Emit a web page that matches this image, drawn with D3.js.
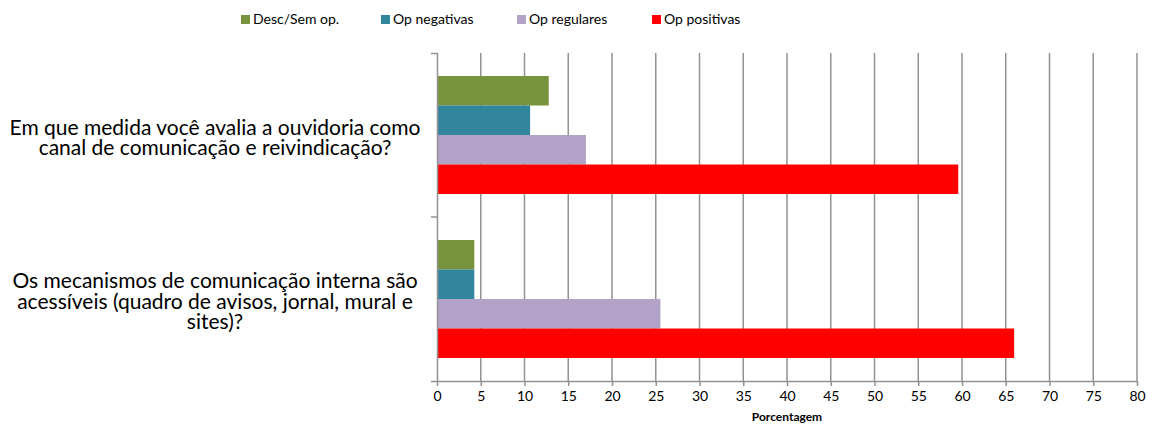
<!DOCTYPE html>
<html>
<head>
<meta charset="utf-8">
<script src="https://cdn.jsdelivr.net/npm/d3@7"></script>
<style>
  body { margin: 0; background: #fff; }
  text { font-family: Lato, "Open Sans", sans-serif; fill: #000; }
</style>
</head>
<body>
<svg id="chart"></svg>
<script>
var W = 1153, H = 425;

// data
var questions = [
  ["Em que medida você avalia a ouvidoria como", "canal de comunicação e reivindicação?"],
  ["Os mecanismos de comunicação interna são", "acessíveis (quadro de avisos, jornal, mural e", "sites)?"]
];
var series = ["Desc/Sem op.", "Op negativas", "Op regulares", "Op positivas"];
var colors = ["#77933C", "#31859C", "#B3A2C7", "#FF0000"];
var descSemOp = [12.77, 4.26];
var opNegativas = [10.64, 4.26];
var opRegulares = [17.02, 25.53];
var opPositivas = [59.57, 65.96];
var xTicks = d3.range(0, 81, 5);

var values = [descSemOp, opNegativas, opRegulares, opPositivas];

var plotL = 437, plotR = 1137, plotT = 53, plotB = 381;

var svg = d3.select("#chart").attr("width", W).attr("height", H);

var x = d3.scaleLinear().domain([0, 80]).range([plotL, plotR]);
var y0 = d3.scaleBand().domain(d3.range(questions.length)).range([plotT, plotB]);
var y1 = d3.scaleBand().domain(d3.range(series.length)).range([0, y0.bandwidth()]).paddingOuter(0.78);

// gridlines
svg.append("g")
  .selectAll("line")
  .data(xTicks.slice(1))
  .join("line")
    .attr("x1", d => x(d)).attr("x2", d => x(d))
    .attr("y1", plotT).attr("y2", plotB)
    .attr("stroke", "#929292")
    .attr("stroke-width", 1.5);

// bars
var groups = svg.append("g")
  .selectAll("g")
  .data(questions)
  .join("g")
  .attr("transform", (d, i) => `translate(0,${y0(i)})`);

groups.selectAll("rect")
  .data((d, i) => series.map((s, j) => ({s: j, v: values[j][i]})))
  .join("rect")
    .attr("x", x(0))
    .attr("y", d => y1(d.s))
    .attr("width", d => x(d.v) - x(0))
    .attr("height", y1.bandwidth())
    .attr("fill", d => colors[d.s]);

// x axis
var xAxis = svg.append("g")
  .attr("transform", `translate(0,${plotB})`)
  .call(d3.axisBottom(x).tickValues(xTicks).tickSize(5).tickSizeOuter(0).tickPadding(5));
xAxis.select(".domain").attr("stroke", "#929292").attr("stroke-width", 1.5);
xAxis.selectAll(".tick line").attr("stroke", "#929292").attr("stroke-width", 1.5);
xAxis.selectAll(".tick text").style("font-size", "14px").style("font-family", "Lato, sans-serif").attr("fill", "#000");

svg.append("text")
  .attr("x", (plotL + plotR) / 2)
  .attr("y", 421)
  .attr("text-anchor", "middle")
  .style("font-size", "12px")
  .style("font-weight", "bold")
  .text("Porcentagem");

// y axis
var yAxis = svg.append("g")
  .attr("transform", `translate(${plotL},0)`)
  .call(d3.axisLeft(y0).tickValues([]).tickSizeOuter(6));
yAxis.select(".domain").attr("stroke", "#929292").attr("stroke-width", 1.5);
svg.append("line")
  .attr("x1", plotL - 6).attr("x2", plotL)
  .attr("y1", y0(1)).attr("y2", y0(1))
  .attr("stroke", "#929292").attr("stroke-width", 1.5);

// category labels
var lineH = 20.5;
var labels = [];
questions.forEach(function(lines, i) {
  var cy = y0(i) + y0.bandwidth() / 2 + 2.5;
  var t = svg.append("text")
    .attr("text-anchor", "middle")
    .style("font-size", "16px");
  lines.forEach(function(l, k) {
    t.append("tspan")
      .attr("x", 215)
      .attr("y", cy + (k - (lines.length - 1) / 2) * lineH)
      .attr("dy", "0.35em")
      .text(l);
  });
  labels.push(t);
});
// size labels so the first line spans about 411px like the original
var w0 = labels[0].select("tspan").node().getComputedTextLength();
var fs = 16 * 411 / w0;
labels.forEach(t => t.style("font-size", fs + "px"));

// legend
var legendX = [241, 381, 517, 652];
var legend = svg.append("g")
  .selectAll("g")
  .data(series)
  .join("g")
  .attr("transform", (d, i) => `translate(${legendX[i]},15)`);
legend.append("rect")
  .attr("width", 9).attr("height", 9)
  .attr("fill", (d, i) => colors[i]);
legend.append("text")
  .attr("x", 12).attr("y", 4.5)
  .attr("dy", "0.35em")
  .style("font-size", "14px")
  .text(d => d);
</script>
</body>
</html>
